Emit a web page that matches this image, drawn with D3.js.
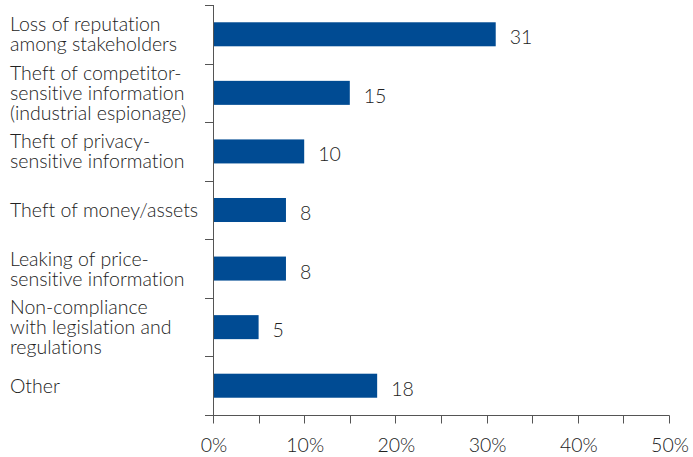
<!DOCTYPE html>
<html>
<head>
<meta charset="utf-8">
<script src="https://cdn.jsdelivr.net/npm/d3@7"></script>
<style>
  html, body { margin: 0; padding: 0; background: #fff; }
  svg text { font-family: Lato, "Open Sans", sans-serif; font-weight: 300; fill: #222; font-variant-ligatures: none; }
</style>
</head>
<body>
<svg id="chart" width="693" height="457"></svg>
<script>
// Consequences of cyber incidents, share of respondents (%)
const categories = [
  ["Loss of reputation", "among stakeholders"],
  ["Theft of competitor-", "sensitive information", "(industrial espionage)"],
  ["Theft of privacy-", "sensitive information"],
  ["Theft of money/assets"],
  ["Leaking of price-", "sensitive information"],
  ["Non-compliance", "with legislation and", "regulations"],
  ["Other"]
];
const values = [31, 15, 10, 8, 8, 5, 18];
const xTicks = [0, 10, 20, 30, 40, 50];
const xMinorTicks = [0, 5, 10, 15, 20, 25, 30, 35, 40, 45, 50];

const svg = d3.select("#chart");
const plotLeft = 213, plotRight = 669, plotTop = 5, plotBottom = 415;
const fontSize = 19.5;

const keys = categories.map((c, i) => i);
const y = d3.scaleBand().domain(keys).range([plotTop, plotBottom]).paddingInner(0.59).paddingOuter(0.295);
const yBoundary = d3.scaleLinear().domain([0, categories.length]).range([plotTop, plotBottom]);
const x = d3.scaleLinear().domain([0, 50]).range([plotLeft, plotRight]);

const axisColor = "#555";

// Bars
svg.append("g").selectAll("rect").data(values).join("rect")
  .attr("x", x(0))
  .attr("y", (d, i) => y(i))
  .attr("width", d => x(d) - x(0))
  .attr("height", y.bandwidth())
  .attr("fill", "#004b93");

// Value labels
svg.append("g").selectAll("text").data(values).join("text")
  .attr("x", d => x(d) + 14)
  .attr("y", (d, i) => y(i) + y.bandwidth() / 2 + 3)
  .attr("dy", "0.36em")
  .attr("font-size", fontSize)
  .text(d => d);

// Category axis: vertical line with separators between bands
const yAxis = svg.append("g");
yAxis.append("line")
  .attr("x1", plotLeft + 0.5).attr("x2", plotLeft + 0.5)
  .attr("y1", yBoundary(0)).attr("y2", yBoundary(categories.length))
  .attr("stroke", axisColor);
yAxis.selectAll("line.sep").data(d3.range(categories.length)).join("line")
  .attr("class", "sep")
  .attr("x1", plotLeft - 8).attr("x2", plotLeft + 0.5)
  .attr("y1", d => Math.round(yBoundary(d)) + 0.5)
  .attr("y2", d => Math.round(yBoundary(d)) + 0.5)
  .attr("stroke", axisColor);

// Category labels, centred on each band
const lineH = 20;
const labels = svg.append("g");
categories.forEach((lines, i) => {
  const cy = y(i) + y.bandwidth() / 2;
  const t = labels.append("text").attr("font-size", fontSize);
  lines.forEach((ln, j) => {
    t.append("tspan")
      .attr("x", 10)
      .attr("y", cy + (j - (lines.length - 1) / 2) * lineH)
      .attr("dy", "0.36em")
      .text(ln);
  });
});

// Value axis
const xAxis = svg.append("g").attr("transform", `translate(0,${plotBottom + 0.5})`);
xAxis.append("line")
  .attr("x1", plotLeft - 8).attr("x2", plotRight + 0.5)
  .attr("stroke", axisColor);
xAxis.selectAll("line.tick").data(xMinorTicks).join("line")
  .attr("class", "tick")
  .attr("x1", d => Math.round(x(d)) + 0.5).attr("x2", d => Math.round(x(d)) + 0.5)
  .attr("y1", 0).attr("y2", 8)
  .attr("stroke", axisColor);
xAxis.selectAll("text").data(xTicks).join("text")
  .attr("x", d => x(d) + 1)
  .attr("y", 29)
  .attr("dy", "0.36em")
  .attr("text-anchor", "middle")
  .attr("font-size", fontSize)
  .text(d => d + "%");
</script>
</body>
</html>
